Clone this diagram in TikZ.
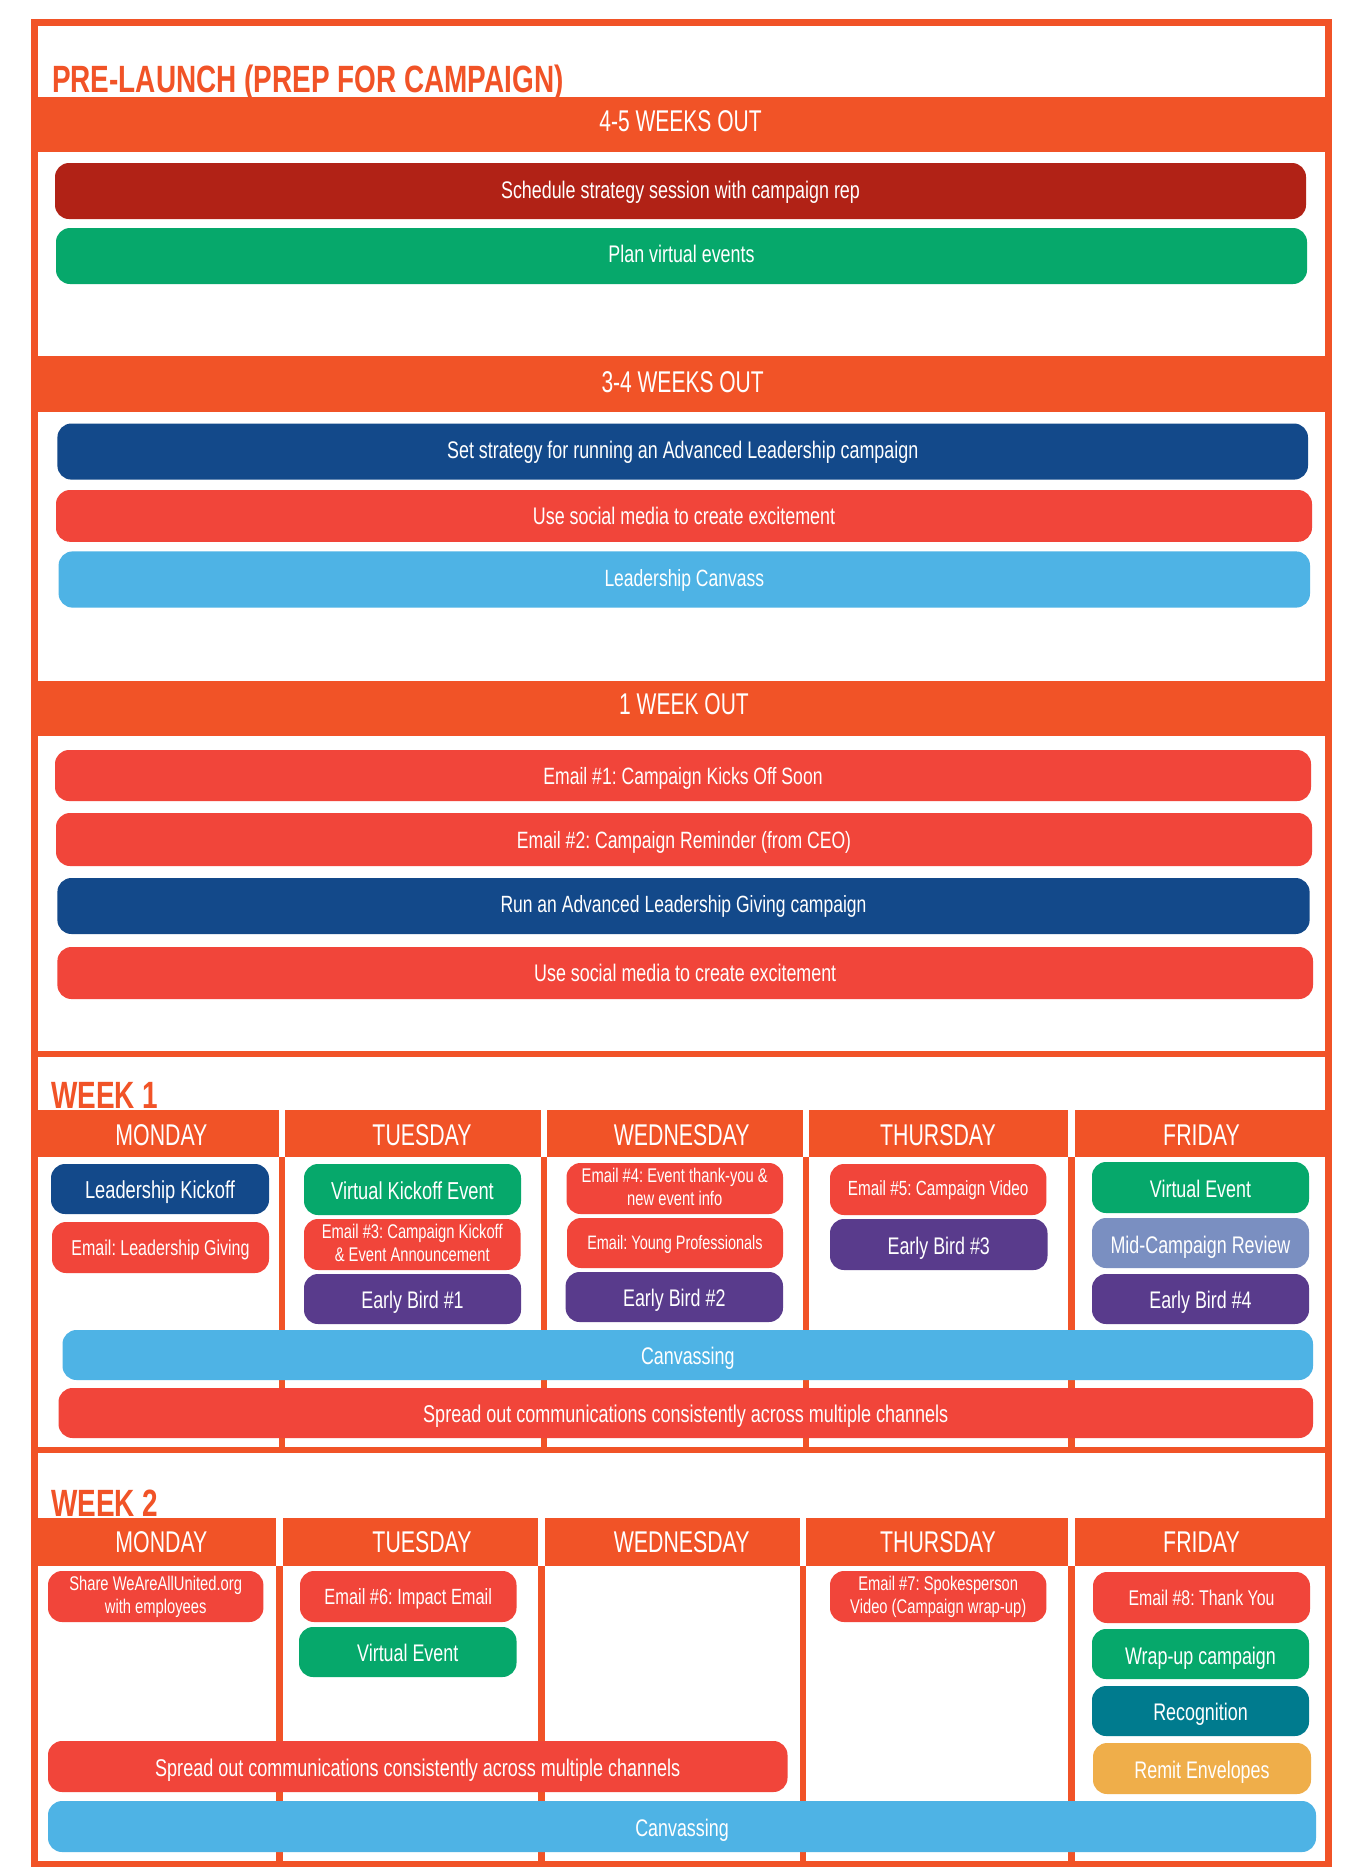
\documentclass[tikz,border=0pt]{standalone}
\usepackage{fontspec}
\setmainfont[FakeStretch=0.745]{Liberation Sans}
\newfontfamily\secfont[FakeStretch=0.70]{Liberation Sans}
\newfontfamily\dayfont[FakeStretch=0.71]{Liberation Sans}
\newfontfamily\titlefont[FakeStretch=0.735]{Liberation Sans}
\definecolor{orng}{HTML}{F15327}
\definecolor{cred}{HTML}{F1453A}
\definecolor{dred}{HTML}{B12216}
\definecolor{cgreen}{HTML}{06A86B}
\definecolor{cblue}{HTML}{13498A}
\definecolor{csky}{HTML}{4EB3E5}
\definecolor{cpurple}{HTML}{593B8C}
\definecolor{cperi}{HTML}{7A8FC1}
\definecolor{cteal}{HTML}{007B8E}
\definecolor{cyell}{HTML}{EFAE4A}
\tikzset{
 pillbox/.style={rectangle,rounded corners=14pt,inner sep=0pt,text=white,align=center},
 bandbox/.style={rectangle,fill=orng,inner sep=0pt},
 bandtext/.style={inner sep=0pt,text=white,anchor=base},
 titletext/.style={inner sep=0pt,text=orng,anchor=base west,font=\titlefont\bfseries\fontsize{38}{38}\selectfont}
}
% #1 lift of the text in px
\newcommand{\pill}[9][0]{%
 \pgfmathsetmacro\pcx{(#4+#6)/2}\pgfmathsetmacro\pcy{(#5+#7)/2}%
 \pgfmathsetmacro\ppw{#6-#4}\pgfmathsetmacro\pph{#7-#5}%
 \pgfmathsetmacro\pth{0.72*#8+max(-2*#1,0)}\pgfmathsetmacro\ptd{max(2*#1,0)}%
 \node[pillbox,fill=#3,minimum width=\ppw pt,minimum height=\pph pt,text height=\pth pt,text depth=\ptd pt,font=\fontsize{#8}{#8}\selectfont] (#2) at (\pcx,\pcy) {#9};}
\newcommand{\pilltwo}[8]{%
 \pgfmathsetmacro\pcx{(#3+#5)/2}\pgfmathsetmacro\pcy{(#4+#6)/2}%
 \pgfmathsetmacro\ppw{#5-#3}\pgfmathsetmacro\pph{#6-#4}\pgfmathsetmacro\pth{0.72*#7+23}%
 \node[pillbox,fill=#2,minimum width=\ppw pt,minimum height=\pph pt,text height=\pth pt,text depth=3pt,font=\fontsize{#7}{23}\selectfont] (#1) at (\pcx,\pcy) {#8};}
\newcommand{\band}[9]{%
 \pgfmathsetmacro\pcx{(#2+#4)/2}\pgfmathsetmacro\pcy{(#3+#5)/2}%
 \pgfmathsetmacro\ppw{#4-#2}\pgfmathsetmacro\pph{#5-#3}%
 \node[bandbox,minimum width=\ppw pt,minimum height=\pph pt] (#1) at (\pcx,\pcy) {};
 \node[bandtext,font=#8\fontsize{30}{30}\selectfont] (#1t) at (#6,#7) {#9};}
\begin{document}
\frenchspacing
\begin{tikzpicture}[x=1pt,y=-1pt]
\useasboundingbox (0,0) rectangle (1354,1875);
% frame
\fill[orng] (31,19) rectangle (1332,1867);
\fill[white] (37.5,25.7) rectangle (1325,1051);
\fill[white] (37.5,1057) rectangle (1325,1447);
\fill[white] (37.5,1453) rectangle (1325,1861);
% week 1 column rules
\foreach \a/\b in {278.6/285,540.6/547,802.7/809,1068/1075}{\fill[orng] (\a,1157) rectangle (\b,1447);}
% week 2 column rules
\foreach \a/\b in {276/282.6,538/544.6,800/806,1068/1075}{\fill[orng] (\a,1566) rectangle (\b,1861);}
% titles
\node[titletext] (t0) at (52,92) {PRE-LAUNCH (PREP FOR CAMPAIGN)};
\node[titletext] (t1) at (51,1108) {WEEK 1};
\node[titletext] (t2) at (51,1516) {WEEK 2};
% section bands
\band{s1}{31}{96.5}{1332}{152.3}{680.5}{131.9}{\secfont}{4-5 WEEKS OUT}
\band{s2}{31}{356.3}{1332}{412}{682.6}{392.3}{\secfont}{3-4 WEEKS OUT}
\band{s3}{31}{680.5}{1332}{736}{684}{714.8}{\secfont}{1 WEEK OUT}
% week 1 heads
\band{a1}{31}{1110}{278.6}{1157}{161.4}{1145.7}{\dayfont}{MONDAY}
\band{a2}{285}{1110}{540.6}{1157}{422}{1145.7}{\dayfont}{TUESDAY}
\band{a3}{547}{1110}{802.7}{1157}{681.7}{1145.7}{\dayfont}{WEDNESDAY}
\band{a4}{809}{1110}{1068}{1157}{938}{1145.7}{\dayfont}{THURSDAY}
\band{a5}{1075}{1110}{1332}{1157}{1201.5}{1145.7}{\dayfont}{FRIDAY}
% week 2 heads
\band{b1}{31}{1518}{276}{1566}{161.4}{1552.7}{\dayfont}{MONDAY}
\band{b2}{282.6}{1518}{538}{1566}{422}{1552.7}{\dayfont}{TUESDAY}
\band{b3}{544.6}{1518}{800}{1566}{681.7}{1552.7}{\dayfont}{WEDNESDAY}
\band{b4}{806}{1518}{1068}{1566}{938}{1552.7}{\dayfont}{THURSDAY}
\band{b5}{1075}{1518}{1332}{1566}{1201.5}{1552.7}{\dayfont}{FRIDAY}
% section pills
\pill[1]{p1}{dred}{55}{163}{1306}{219}{24}{Schedule strategy session with campaign rep}
\pill[2.4]{p2}{cgreen}{56}{228}{1307}{284}{24}{Plan virtual events}
\pill[1.2]{p3}{cblue}{57.4}{423.5}{1308}{479.6}{24}{Set strategy for running an Advanced Leadership campaign}
\pill{p4}{cred}{56}{490}{1312}{541.8}{24}{Use social media to create excitement}
\pill[1.2]{p5}{csky}{58.6}{551.4}{1310}{607.6}{23.5}{Leadership Canvass}
\pill{p6}{cred}{55}{750}{1311}{801}{23.6}{Email \#1: Campaign Kicks Off Soon}
\pill{p7}{cred}{56}{813}{1312}{866}{23.6}{Email \#2: Campaign Reminder (from CEO)}
\pill[2.4]{p8}{cblue}{57.4}{878}{1309.6}{934}{23.5}{Run an Advanced Leadership Giving campaign}
\pill{p9}{cred}{57.4}{947}{1313}{999}{24}{Use social media to create excitement}
% week 1 pills
\pill[-1]{q1}{cblue}{51}{1164}{269}{1214}{24.5}{Leadership Kickoff}
\pill{q2}{cred}{52}{1222}{269}{1273}{21.5}{Email: Leadership Giving}
\pill[-1]{q3}{cgreen}{304}{1164}{521}{1215}{24.5}{Virtual Kickoff Event}
\pilltwo{q4}{cred}{304}{1219}{520.5}{1270}{19.8}{Email \#3: Campaign Kickoff\\\& Event Announcement}
\pill[-1]{q5}{cpurple}{304}{1274}{521}{1324}{24}{Early Bird \#1}
\pilltwo{q6}{cred}{566.5}{1163}{783}{1214}{19.8}{Email \#4: Event thank-you \&\\new event info}
\pill[1]{q7}{cred}{567}{1218}{783}{1268}{19.4}{Email: Young Professionals}
\pill[-1]{q8}{cpurple}{565.6}{1272}{783}{1322}{24}{Early Bird \#2}
\pill[1]{q9}{cred}{830}{1164}{1046.4}{1215}{20.5}{Email \#5: Campaign Video}
\pill[-1]{q10}{cpurple}{830}{1219}{1047.5}{1270}{24}{Early Bird \#3}
\pill[-1]{q11}{cgreen}{1092}{1162}{1309}{1213}{24}{Virtual Event}
\pill[-2]{q12}{cperi}{1092}{1218}{1309}{1268}{24}{Mid-Campaign Review}
\pill[-1]{q13}{cpurple}{1092}{1274}{1309}{1324}{24}{Early Bird \#4}
\pill[-1]{q14}{csky}{62.5}{1330}{1313}{1380}{24}{Canvassing}
\pill[-1]{q15}{cred}{58.5}{1388}{1313}{1438}{24.2}{Spread out communications consistently across multiple channels}
% week 2 pills
\pilltwo{r1}{cred}{48}{1571}{263.4}{1622}{19.8}{Share WeAreAllUnited.org\\with employees}
\pill{r2}{cred}{300}{1571}{516.5}{1622}{22}{Email \#6: Impact Email}
\pill[-1]{r3}{cgreen}{299}{1627}{516.5}{1677}{24}{Virtual Event}
\pilltwo{r4}{cred}{830}{1571}{1046.4}{1622}{19.8}{Email \#7: Spokesperson\\Video (Campaign wrap-up)}
\pill{r5}{cred}{1093}{1572}{1310}{1623}{21.3}{Email \#8: Thank You}
\pill[-2]{r6}{cgreen}{1092}{1629}{1309}{1679}{24}{Wrap-up campaign}
\pill[-1]{r7}{cteal}{1092}{1686}{1309}{1736}{24}{Recognition}
\pill[-1]{r8}{cyell}{1093}{1743}{1311}{1794}{24}{Remit Envelopes}
\pill[-1]{r9}{cred}{48}{1741}{787.5}{1792}{24.2}{Spread out communications consistently across multiple channels}
\pill[-1]{r10}{csky}{48}{1801}{1316}{1852}{24}{Canvassing}
\end{tikzpicture}
\end{document}
